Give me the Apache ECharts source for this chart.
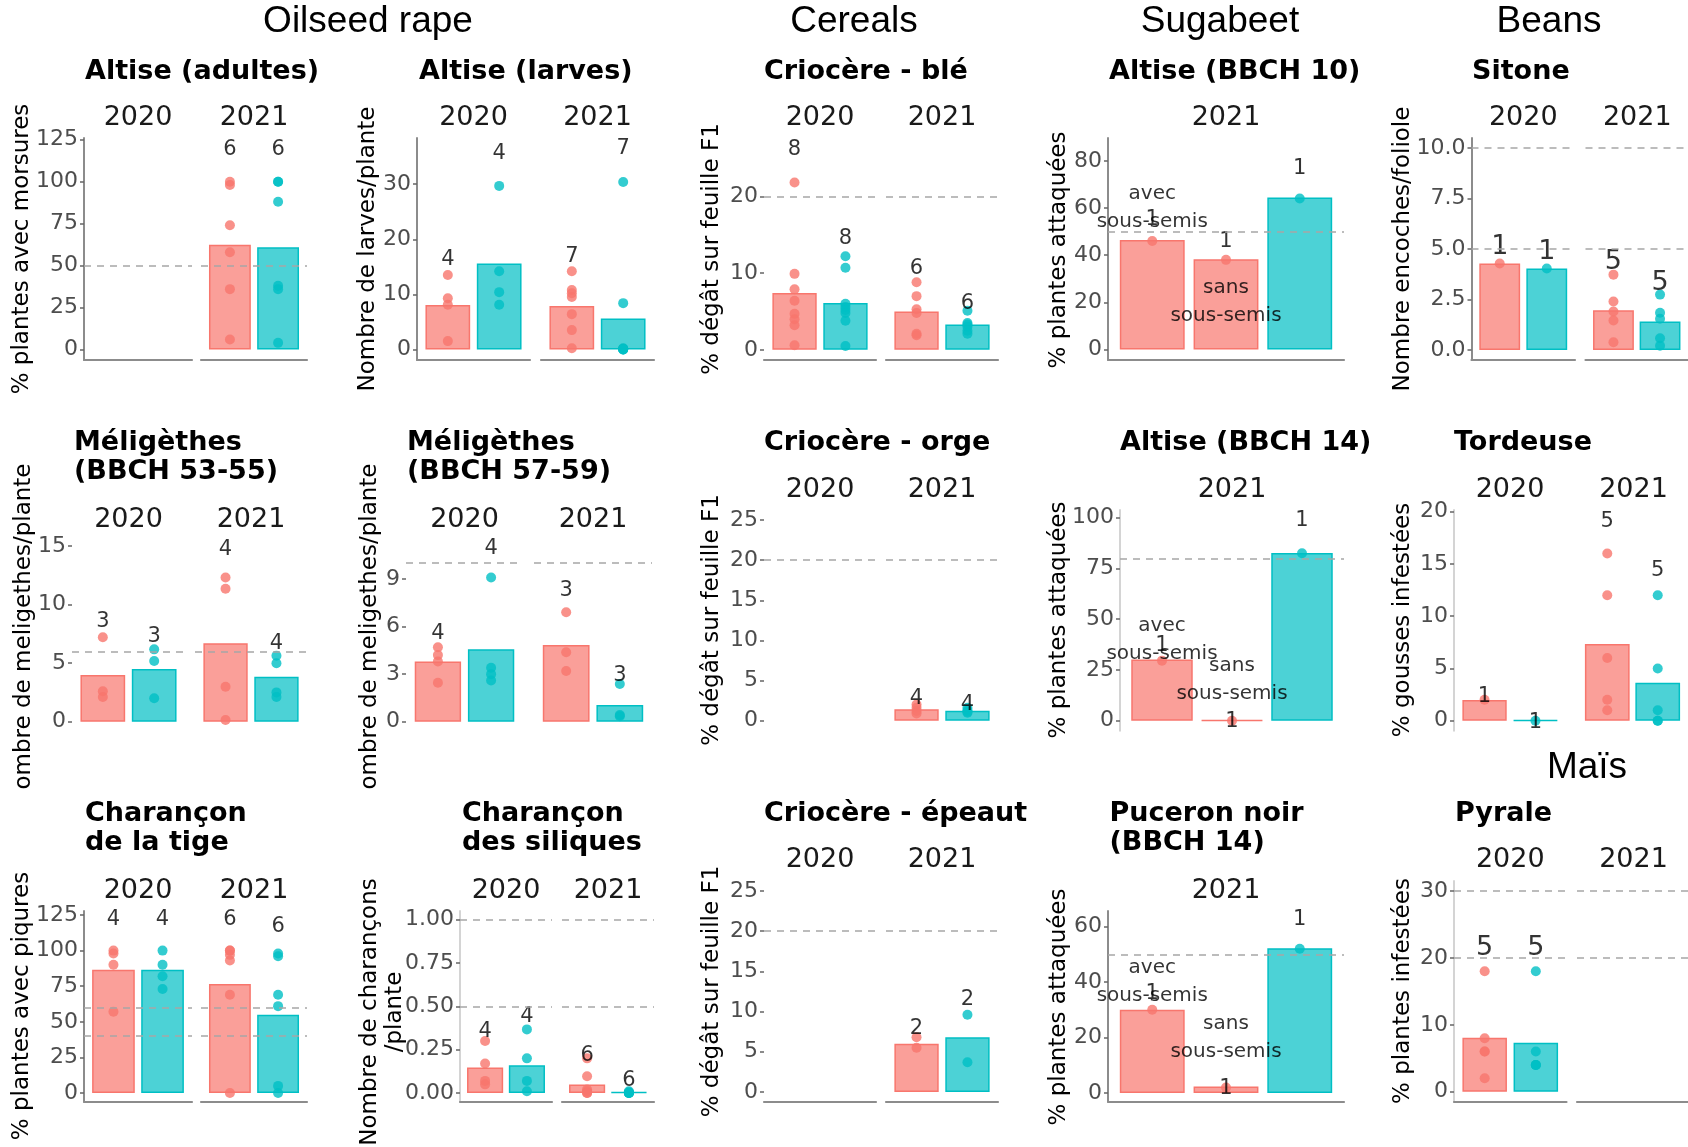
<!DOCTYPE html>
<html><head><meta charset="utf-8">
<script src="https://cdn.jsdelivr.net/npm/echarts@6/dist/echarts.min.js"></script>
<style>html,body{margin:0;padding:0;background:#fff}#c{width:1688px;height:1147px}</style>
</head><body><div id="c"></div>
<script>
// ---------------- DATA ----------------
const YEARS = ['2020', '2021'];
const YEAR21 = ['2021'];
const GROUP_TITLES = ['Oilseed rape', 'Cereals', 'Sugabeet', 'Beans', 'Maïs'];
const SOW_LABELS = ['avec\nsous-semis', 'sans\nsous-semis'];

// Oilseed rape - Altise (adultes)  [facet][red, cyan]
const altAdBar = [[null, null], [62.4, 61.0]];
const altAdPts = [[[], []], [[100, 98, 74, 58, 36, 6], [100, 100, 88, 38, 36, 4]]];
const altAdN = [[null, null], [6, 6]];
const altAdNy = [[null, null], [119, 119]];
const altAdTicks = [0, 25, 50, 75, 100, 125];
const altAdThr = [50];

// Altise (larves)
const altLaBar = [[8.05, 15.6], [7.9, 5.6]];
const altLaPts = [[[13.5, 9.3, 8.1, 1.5], [29.7, 14.2, 10.4, 8.1]],
                  [[14.2, 10.8, 10.2, 9.5, 6.4, 3.5, 0.2], [30.4, 8.4, 0.2, 0.1, 0, 0, 0]]];
const altLaN = [[4, 4], [7, 7]];
const altLaNy = [[16.4, 35.5], [16.8, 36.5]];
const altLaTicks = [0, 10, 20, 30];
const altLaThr = [];

// Méligèthes (BBCH 53-55)
const melABar = [[3.98, 4.49], [6.68, 3.84]];
const melAPts = [[[7.2, 2.6, 2.1], [6.17, 5.17, 2.0]], [[12.3, 11.34, 2.98, 0.14], [5.63, 4.98, 2.5, 2.1]]];
const melAN = [[3, 3], [4, 4]];
const melANy = [[8.5, 7.3], [14.7, 6.68]];
const melATicks = [0, 5, 10, 15];
const melAThr = [6];

// Méligèthes (BBCH 57-59)
const melBBar = [[3.79, 4.57], [4.84, 1.05]];
const melBPts = [[[4.7, 4.2, 3.8, 2.46], [9.09, 3.4, 3.0, 2.6]], [[6.9, 4.38, 3.2], [2.38, 0.42, 0.35]]];
const melBN = [[4, 4], [3, 3]];
const melBNy = [[5.58, 10.9], [8.27, 2.88]];
const melBTicks = [0, 3, 6, 9];
const melBThr = [10];

// Charançon de la tige
const tigeBar = [[86.5, 86.5], [76.6, 54.9]];
const tigePts = [[[100, 98, 90, 57], [100, 90, 82, 73]], [[100, 100, 97, 93, 69, 0], [98, 96, 69, 61, 5, 0]]];
const tigeN = [[4, 4], [6, 6]];
const tigeNy = [[121.5, 121.5], [121.5, 116.7]];
const tigeTicks = [0, 25, 50, 75, 100, 125];
const tigeThr = [40, 60];

// Charançon des siliques
const silBar = [[0.147, 0.16], [0.049, 0.005]];
const silPts = [[[0.3, 0.17, 0.07, 0.05], [0.367, 0.2, 0.07, 0.01]], [[0.2, 0.097, 0.02, 0.01, 0, 0], [0.01, 0.005, 0, 0, 0, 0]]];
const silN = [[4, 4], [6, 6]];
const silNy = [[0.355, 0.444], [0.218, 0.07]];
const silTicks = [0, 0.25, 0.5, 0.75, 1];
const silThr = [0.5, 1];

// Cereals - Criocère - blé
const bleBar = [[7.4, 6.1], [5.0, 3.3]];
const blePts = [[[21.8, 9.9, 7.9, 6.4, 4.7, 4.0, 3.2, 0.6], [12.2, 10.7, 6.0, 5.6, 5.2, 4.8, 3.8, 0.5]],
                [[8.8, 7.0, 5.3, 4.8, 2.1, 1.9], [5.1, 3.5, 3.3, 3.0, 2.5, 2.1]]];
const bleN = [[8, 8], [6, 6]];
const bleNy = [[26.1, 14.5], [10.6, 6.0]];
const bleTicks = [0, 10, 20];
const bleThr = [20];

// Criocère - orge
const orgeBar = [[null, null], [1.42, 1.25]];
const orgePts = [[[], []], [[2.0, 1.6, 1.2, 0.9], [1.6, 1.3, 1.1, 1.0]]];
const orgeN = [[null, null], [4, 4]];
const orgeNy = [[null, null], [2.7, 1.96]];
const orgeTicks = [0, 5, 10, 15, 20, 25];
const orgeThr = [20];

// Criocère - épeautre
const epBar = [[null, null], [6.0, 6.8]];
const epPts = [[[], []], [[6.8, 5.5], [9.6, 3.7]]];
const epN = [[null, null], [2, 2]];
const epNy = [[null, null], [7.95, 11.5]];
const epTicks = [0, 5, 10, 15, 20, 25];
const epThr = [20];

// Sugarbeet - Altise (BBCH 10)  [avec sous-semis, sans sous-semis, témoin]
const a10Bar = [[46.4, 38.2, 64.4]];
const a10Pts = [[[46], [38], [64]]];
const a10N = [[1, 1, 1]];
const a10Ny = [[55, 45.7, 76.9]];
const a10LabY = [60, 20];
const a10Ticks = [0, 20, 40, 60, 80];
const a10Thr = [50];

// Altise (BBCH 14)
const a14Bar = [[30.2, 0.3, 82.6]];
const a14Pts = [[[29.6], [0], [82.5]]];
const a14N = [[1, 1, 1]];
const a14Ny = [[37.2, -0.4, 98.7]];
const a14LabY = [40, 20];
const a14Ticks = [0, 25, 50, 75, 100];
const a14Thr = [80];

// Puceron noir (BBCH 14)
const pucBar = [[30.0, 2.4, 52.2]];
const pucPts = [[[30], [2.0], [52]]];
const pucN = [[1, 1, 1]];
const pucNy = [[36, 1.8, 62.4]];
const pucLabY = [40, 20];
const pucTicks = [0, 20, 40, 60];
const pucThr = [50];

// Beans - Sitone
const sitBar = [[4.28, 4.03], [1.96, 1.41]];
const sitPts = [[[4.28], [4.03]], [[3.73, 2.4, 1.9, 1.46, 0.38], [2.74, 1.84, 1.54, 0.58, 0.21]]];
const sitN = [[1, 1], [5, 5]];
const sitNy = [[5.1, 4.86], [4.36, 3.31]];
const sitTicks = [0, 2.5, 5, 7.5, 10];
const sitThr = [5, 10];

// Tordeuse
const torBar = [[1.98, 0.05], [7.34, 3.64]];
const torPts = [[[2.0], [0]], [[16, 12, 6, 2, 1], [12, 5, 1, 0, 0]]];
const torN = [[1, 1], [5, 5]];
const torNy = [[2.3, -0.2], [19.1, 14.35]];
const torTicks = [0, 5, 10, 15, 20];
const torThr = [];

// Maïs - Pyrale
const pyrBar = [[8.06, 7.3], [null, null]];
const pyrPts = [[[18, 8, 6, 6, 2], [18, 6, 4, 4, 4]], [[], []]];
const pyrN = [[5, 5], [null, null]];
const pyrNy = [[21.55, 21.55], [null, null]];
const pyrTicks = [0, 10, 20, 30];
const pyrThr = [20, 30];

// ---------------- STYLE / LAYOUT ----------------
const RED = '#F8766D', CYAN = '#00BFC4';
const FILL = { [RED]: 'rgba(248,118,109,0.7)', [CYAN]: 'rgba(0,191,196,0.7)' };
const DARK = '#8c8c8c', LIGHT = '#d4d4d4';
const FONT = '"DejaVu Sans", Verdana, sans-serif';
const C2 = [RED, CYAN], C3 = [RED, RED, CYAN];
const CER = [[764, 876], [886, 998]];

const groupPos = [[368, 22], [854, 22], [1220, 22], [1549, 22], [1587, 768]];

const panels = [
  { title: 'Altise (adultes)', tx: 85, ty: 72, facets: [[84, 192], [201, 307]], strips: YEARS, stripY: 118,
    top: 138, bottom: 360, ymin: -6.2, ymax: 126, ticks: altAdTicks, dec: 0, thr: altAdThr,
    yt: '% plantes avec morsures', ytx: 22, yty: 249, xLine: true, yLine: DARK, cols: C2,
    bar: altAdBar, pts: altAdPts, n: altAdN, ny: altAdNy },
  { title: 'Altise (larves)', tx: 419, ty: 72, facets: [[417, 530], [541, 654]], strips: YEARS, stripY: 118,
    top: 138, bottom: 360, ymin: -1.93, ymax: 38.4, ticks: altLaTicks, dec: 0, thr: altLaThr,
    yt: 'Nombre de larves/plante', ytx: 368, yty: 249, xLine: true, yLine: DARK, cols: C2,
    bar: altLaBar, pts: altLaPts, n: altLaN, ny: altLaNy },
  { title: 'Criocère - blé', tx: 764, ty: 72, facets: CER, strips: YEARS, stripY: 118,
    top: 138, bottom: 360, ymin: -1.32, ymax: 27.6, ticks: bleTicks, dec: 0, thr: bleThr,
    yt: '% dégât sur feuille F1', ytx: 712, yty: 249, xLine: true, yLine: null, cols: C2,
    bar: bleBar, pts: blePts, n: bleN, ny: bleNy },
  { title: 'Altise (BBCH 10)', tx: 1109, ty: 72, facets: [[1108, 1344]], strips: YEAR21, stripY: 118,
    top: 138, bottom: 360, ymin: -4.5, ymax: 89.7, ticks: a10Ticks, dec: 0, thr: a10Thr,
    yt: '% plantes attaquées', ytx: 1059, yty: 250, xLine: true, yLine: DARK, cols: C3,
    bar: a10Bar, pts: a10Pts, n: a10N, ny: a10Ny, ann: a10LabY },
  { title: 'Sitone', tx: 1472, ty: 72, facets: [[1471.5, 1575], [1585.5, 1689]], strips: YEARS, stripY: 118,
    top: 138, bottom: 360, ymin: -0.5, ymax: 10.5, ticks: sitTicks, dec: 1, thr: sitThr,
    yt: 'Nombre encoches/foliole', ytx: 1403, yty: 249, xLine: true, yLine: DARK, cols: C2, big: true,
    bar: sitBar, pts: sitPts, n: sitN, ny: sitNy },

  { title: 'Méligèthes\n(BBCH 53-55)', tx: 74, ty: 443, facets: [[72, 185], [195, 307]], strips: YEARS, stripY: 520,
    top: 537, bottom: 730.5, ymin: -0.75, ymax: 15.75, ticks: melATicks, dec: 0, thr: melAThr,
    yt: 'ombre de meligethes/plante', ytx: 24.5, yty: 626.5, xLine: false, yLine: null, cols: C2,
    bar: melABar, pts: melAPts, n: melAN, ny: melANy },
  { title: 'Méligèthes\n(BBCH 57-59)', tx: 407, ty: 443, facets: [[406, 523], [534, 652]], strips: YEARS, stripY: 520,
    top: 537, bottom: 730.5, ymin: -0.555, ymax: 11.65, ticks: melBTicks, dec: 0, thr: melBThr,
    yt: 'ombre de meligethes/plante', ytx: 369.6, yty: 626.5, xLine: false, yLine: null, cols: C2,
    bar: melBBar, pts: melBPts, n: melBN, ny: melBNy },
  { title: 'Criocère - orge', tx: 764, ty: 443, facets: CER, strips: YEARS, stripY: 489.5,
    top: 510, bottom: 730.7, ymin: -1.25, ymax: 26.25, ticks: orgeTicks, dec: 0, thr: orgeThr,
    yt: '% dégât sur feuille F1', ytx: 712, yty: 620, xLine: false, yLine: null, cols: C2,
    bar: orgeBar, pts: orgePts, n: orgeN, ny: orgeNy },
  { title: 'Altise (BBCH 14)', tx: 1120, ty: 443, facets: [[1120, 1344]], strips: YEAR21, stripY: 489.5,
    top: 510, bottom: 730.7, ymin: -4.9, ymax: 103.8, ticks: a14Ticks, dec: 0, thr: a14Thr,
    yt: '% plantes attaquées', ytx: 1059, yty: 620, xLine: false, yLine: LIGHT, cols: C3,
    bar: a14Bar, pts: a14Pts, n: a14N, ny: a14Ny, ann: a14LabY },
  { title: 'Tordeuse', tx: 1454, ty: 443, facets: [[1454, 1566], [1577, 1690]], strips: YEARS, stripY: 489.5,
    top: 510, bottom: 730.7, ymin: -0.96, ymax: 20.16, ticks: torTicks, dec: 0, thr: torThr,
    yt: '% gousses infestées', ytx: 1403, yty: 620, xLine: false, yLine: LIGHT, cols: C2,
    bar: torBar, pts: torPts, n: torN, ny: torNy },

  { title: 'Charançon\nde la tige', tx: 85, ty: 814, facets: [[84, 192], [201, 307]], strips: YEARS, stripY: 890.7,
    top: 911, bottom: 1101.7, ymin: -6.1, ymax: 127.8, ticks: tigeTicks, dec: 0, thr: tigeThr,
    yt: '% plantes avec piqures', ytx: 22, yty: 1006, xLine: true, yLine: DARK, cols: C2,
    bar: tigeBar, pts: tigePts, n: tigeN, ny: tigeNy },
  { title: 'Charançon\ndes siliques', tx: 462, ty: 814, facets: [[460, 552], [562, 654]], strips: YEARS, stripY: 890.7,
    top: 911, bottom: 1101.7, ymin: -0.05, ymax: 1.05, ticks: silTicks, dec: 2, thr: silThr,
    yt: 'Nombre de charançons\n/plante', ytx: 382.75, yty: 1012, xLine: true, yLine: LIGHT, cols: C2,
    bar: silBar, pts: silPts, n: silN, ny: silNy },
  { title: 'Criocère - épeaut', tx: 764, ty: 814, facets: CER, strips: YEARS, stripY: 860,
    top: 881, bottom: 1102, ymin: -1.25, ymax: 26.25, ticks: epTicks, dec: 0, thr: epThr,
    yt: '% dégât sur feuille F1', ytx: 712, yty: 991.5, xLine: true, yLine: null, cols: C2,
    bar: epBar, pts: epPts, n: epN, ny: epNy },
  { title: 'Puceron noir\n(BBCH 14)', tx: 1109.5, ty: 814, facets: [[1108, 1344]], strips: YEAR21, stripY: 890.7,
    top: 911, bottom: 1101.7, ymin: -3.1, ymax: 65.6, ticks: pucTicks, dec: 0, thr: pucThr,
    yt: '% plantes attaquées', ytx: 1059, yty: 1007, xLine: true, yLine: DARK, cols: C3,
    bar: pucBar, pts: pucPts, n: pucN, ny: pucNy, ann: pucLabY },
  { title: 'Pyrale', tx: 1455, ty: 814, facets: [[1454, 1566.5], [1577, 1690]], strips: YEARS, stripY: 860,
    top: 881, bottom: 1101.7, ymin: -1.5, ymax: 31.5, ticks: pyrTicks, dec: 0, thr: pyrThr,
    yt: '% plantes infestées', ytx: 1403, yty: 991, xLine: true, yLine: LIGHT, cols: C2, big: true,
    bar: pyrBar, pts: pyrPts, n: pyrN, ny: pyrNy }
];

// ---------------- BUILD ----------------
const option = { animation: false, backgroundColor: '#ffffff', grid: [], xAxis: [], yAxis: [], series: [],
  graphic: { elements: [] } };
const G = option.graphic.elements;

GROUP_TITLES.forEach((t, i) => {
  G.push({ type: 'text', x: groupPos[i][0], y: groupPos[i][1], silent: true,
    style: { text: t, fontSize: 37, fontFamily: '"Liberation Sans", Arial, sans-serif', fill: '#000',
      align: 'center', verticalAlign: 'middle' } });
});

panels.forEach(p => {
  G.push({ type: 'text', x: p.tx, y: p.ty - 14.5, silent: true,
    style: { text: p.title, fontSize: 27, fontWeight: 'bold', fontFamily: FONT, fill: '#000',
      align: 'left', verticalAlign: 'top', lineHeight: 29 } });
  G.push({ type: 'text', x: p.ytx, y: p.yty, rotation: Math.PI / 2, silent: true,
    style: { text: p.yt, fontSize: 23, fontFamily: FONT, fill: '#000', align: 'center',
      verticalAlign: 'middle', lineHeight: 24.5 } });

  p.facets.forEach((f, fi) => {
    const gi = option.grid.length;
    const k = p.cols.length;
    const W = f[1] - f[0];
    const unit = W / (k - 1 + 1.2);
    G.push({ type: 'text', x: (f[0] + f[1]) / 2, y: p.stripY, silent: true,
      style: { text: p.strips[fi], fontSize: 27, fontFamily: FONT, fill: '#1a1a1a', align: 'center', verticalAlign: 'middle' } });

    option.grid.push({ left: f[0], top: p.top, width: W, height: p.bottom - p.top });
    option.xAxis.push({ gridIndex: gi, type: 'value', min: 0.4, max: k + 0.6,
      axisLine: { show: p.xLine, onZero: false, lineStyle: { color: DARK, width: 2.2 } },
      axisTick: { show: false }, axisLabel: { show: false }, splitLine: { show: false } });
    option.yAxis.push({ gridIndex: gi, type: 'value', min: p.ymin, max: p.ymax, show: fi === 0,
      axisLine: { show: !!p.yLine, onZero: false, lineStyle: { color: p.yLine || DARK, width: 2 } },
      axisTick: { show: true, length: 4, customValues: p.ticks, lineStyle: { color: '#666', width: 1.5 } },
      axisLabel: { customValues: p.ticks, formatter: v => Number(v).toFixed(p.dec), fontSize: 22,
        fontFamily: FONT, color: '#4d4d4d', margin: 6 },
      splitLine: { show: false } });

    if (p.thr.length) {
      option.series.push({ type: 'line', xAxisIndex: gi, yAxisIndex: gi, data: [], z: 1, silent: true,
        markLine: { silent: true, symbol: 'none', label: { show: false },
          lineStyle: { color: '#a6a6a6', type: [7, 6], width: 1.6 },
          data: p.thr.map(t => ({ yAxis: t })) } });
    }

    const barData = [], ptData = [], nData = [];
    p.cols.forEach((c, i) => {
      const v = p.bar[fi][i];
      if (v != null) barData.push({ value: [i + 1, v], itemStyle: { color: FILL[c], borderColor: c, borderWidth: 1.5 } });
      p.pts[fi][i].forEach(pv => ptData.push({ value: [i + 1, pv], itemStyle: { color: c } }));
      if (p.n[fi][i] != null) nData.push({ value: [i + 1, p.ny[fi][i], p.n[fi][i]] });
    });
    option.series.push({ type: 'bar', xAxisIndex: gi, yAxisIndex: gi, z: 2, silent: true,
      barWidth: 0.9 * unit - 1.5, data: barData });
    option.series.push({ type: 'scatter', xAxisIndex: gi, yAxisIndex: gi, z: 3, silent: true,
      symbolSize: 10, data: ptData, clip: false });
    option.series.push({ type: 'scatter', xAxisIndex: gi, yAxisIndex: gi, z: 4, silent: true, clip: false,
      symbolSize: 1, itemStyle: { color: 'rgba(0,0,0,0)' },
      label: { show: true, position: 'inside', formatter: d => String(d.value[2]),
        fontSize: p.big ? 27 : 21, fontFamily: FONT, color: '#000' },
      data: nData });
    if (p.ann) {
      option.series.push({ type: 'scatter', xAxisIndex: gi, yAxisIndex: gi, z: 5, silent: true, clip: false,
        symbolSize: 1, itemStyle: { color: 'rgba(0,0,0,0)' },
        label: { show: true, position: 'inside', formatter: d => SOW_LABELS[d.dataIndex],
          fontSize: 20, lineHeight: 28, fontFamily: FONT, color: '#000' },
        data: p.ann.map((y, i) => [i + 1, y]) });
    }
  });
});

const chart = echarts.init(document.getElementById('c'), null, { renderer: 'canvas', width: 1688, height: 1147 });
chart.setOption(option);
</script></body></html>
